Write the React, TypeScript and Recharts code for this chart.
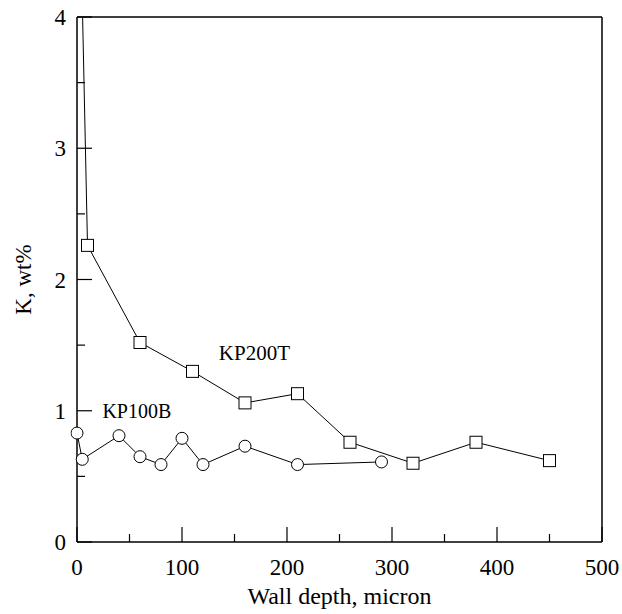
import { ComposedChart, Line, XAxis, YAxis, ReferenceDot } from "recharts";

const FONT = "'Liberation Serif', 'Times New Roman', serif";

// KP200T (squares); first point lies above the plotted range
const kp200tDepth = [4, 10, 60, 110, 160, 210, 260, 320, 380, 450];
const kp200tK = [4.5, 2.26, 1.52, 1.3, 1.06, 1.13, 0.76, 0.6, 0.76, 0.62];

// KP100B (circles)
const kp100bDepth = [0, 5, 40, 60, 80, 100, 120, 160, 210, 290];
const kp100bK = [0.83, 0.63, 0.81, 0.65, 0.59, 0.79, 0.59, 0.73, 0.59, 0.61];

const xTicks = [0, 50, 100, 150, 200, 250, 300, 350, 400, 450, 500];
const yTicks = [0, 0.5, 1, 1.5, 2, 2.5, 3, 3.5, 4];

const kp200t = kp200tDepth.map((x, i) => ({ x, y: kp200tK[i] }));
const kp100b = kp100bDepth.map((x, i) => ({ x, y: kp100bK[i] }));

const isMajor = (v: number, step: number) => Math.abs(v / step - Math.round(v / step)) < 1e-6;

const BottomTick = ({ x, y, payload }: any) => {
  const major = isMajor(payload.value, 100);
  return (
    <g>
      <line x1={x} y1={y} x2={x} y2={y - (major ? 15 : 8)} stroke="#000" strokeWidth={1.2} />
      {major && (
        <text x={x} y={y + 33} textAnchor="middle" fontSize={23} fontFamily={FONT} fill="#000">
          {payload.value}
        </text>
      )}
    </g>
  );
};

const TopTick = ({ x, y, payload }: any) => {
  const major = isMajor(payload.value, 100);
  return <line x1={x} y1={y} x2={x} y2={y + (major ? 15 : 8)} stroke="#000" strokeWidth={1.2} />;
};

const LeftTick = ({ x, y, payload }: any) => {
  const major = isMajor(payload.value, 1);
  return (
    <g>
      <line x1={x} y1={y} x2={x + (major ? 15 : 8)} y2={y} stroke="#000" strokeWidth={1.2} />
      {major && (
        <text x={x - 11} y={y + 8} textAnchor="end" fontSize={23} fontFamily={FONT} fill="#000">
          {payload.value}
        </text>
      )}
    </g>
  );
};

const RightTick = ({ x, y, payload }: any) => {
  const major = isMajor(payload.value, 1);
  return <line x1={x} y1={y} x2={x - (major ? 15 : 8)} y2={y} stroke="#000" strokeWidth={1.2} />;
};

const SquareDot = ({ cx, cy }: any) => {
  if (cx == null || cy == null) return null;
  return <rect x={cx - 6} y={cy - 6} width={12} height={12} fill="#fff" stroke="#000" strokeWidth={1} />;
};

const axisLine = { stroke: "#000", strokeWidth: 1.5 };

export default function App() {
  return (
    <div style={{ position: "absolute", left: 0, top: 0, background: "#fff" }}>
      <ComposedChart width={622} height={614} margin={{ top: 16, right: 19, left: 0, bottom: 0 }}>
        <XAxis
          xAxisId="b"
          type="number"
          dataKey="x"
          domain={[0, 500]}
          ticks={xTicks}
          height={72}
          tickSize={0}
          tickMargin={0}
          tickLine={false}
          axisLine={axisLine}
          tick={<BottomTick />}
          interval={0}
          label={{
            content: ({ viewBox }: any) => (
              <text
                x={viewBox.x + viewBox.width / 2}
                y={viewBox.y + 62}
                textAnchor="middle"
                fontSize={24}
                fontFamily={FONT}
                fill="#000"
              >
                Wall depth, micron
              </text>
            ),
          }}
        />
        <XAxis
          xAxisId="t"
          orientation="top"
          type="number"
          domain={[0, 500]}
          ticks={xTicks}
          height={1}
          tickSize={0}
          tickMargin={0}
          tickLine={false}
          axisLine={axisLine}
          tick={<TopTick />}
          interval={0}
        />
        <YAxis
          yAxisId="l"
          type="number"
          domain={[0, 4]}
          allowDataOverflow
          ticks={yTicks}
          width={77}
          tickSize={0}
          tickMargin={0}
          tickLine={false}
          axisLine={axisLine}
          tick={<LeftTick />}
          interval={0}
          label={{
            content: ({ viewBox }: any) => {
              const cx = viewBox.x + 31;
              const cy = viewBox.y + viewBox.height / 2;
              return (
                <text
                  x={cx}
                  y={cy}
                  transform={`rotate(-90, ${cx}, ${cy})`}
                  textAnchor="middle"
                  fontSize={23}
                  fontFamily={FONT}
                  fill="#000"
                >
                  K, wt%
                </text>
              );
            },
          }}
        />
        <YAxis
          yAxisId="r"
          orientation="right"
          type="number"
          domain={[0, 4]}
          ticks={yTicks}
          width={1}
          tickSize={0}
          tickMargin={0}
          tickLine={false}
          axisLine={axisLine}
          tick={<RightTick />}
          interval={0}
        />
        <Line
          xAxisId="b"
          yAxisId="l"
          data={kp200t}
          dataKey="y"
          stroke="#000"
          strokeWidth={1}
          dot={<SquareDot />}
          isAnimationActive={false}
        />
        <Line
          xAxisId="b"
          yAxisId="l"
          data={kp100b}
          dataKey="y"
          stroke="#000"
          strokeWidth={1}
          dot={{ r: 6, fill: "#fff", stroke: "#000", strokeWidth: 1, clipDot: false }}
          isAnimationActive={false}
        />
        <ReferenceDot
          xAxisId="b"
          yAxisId="l"
          x={169}
          y={1.44}
          r={0}
          stroke="none"
          label={{ value: "KP200T", position: "center", fontSize: 21, fontFamily: FONT, fill: "#000" }}
        />
        <ReferenceDot
          xAxisId="b"
          yAxisId="l"
          x={57}
          y={1.0}
          r={0}
          stroke="none"
          label={{ value: "KP100B", position: "center", fontSize: 20, fontFamily: FONT, fill: "#000" }}
        />
      </ComposedChart>
    </div>
  );
}
